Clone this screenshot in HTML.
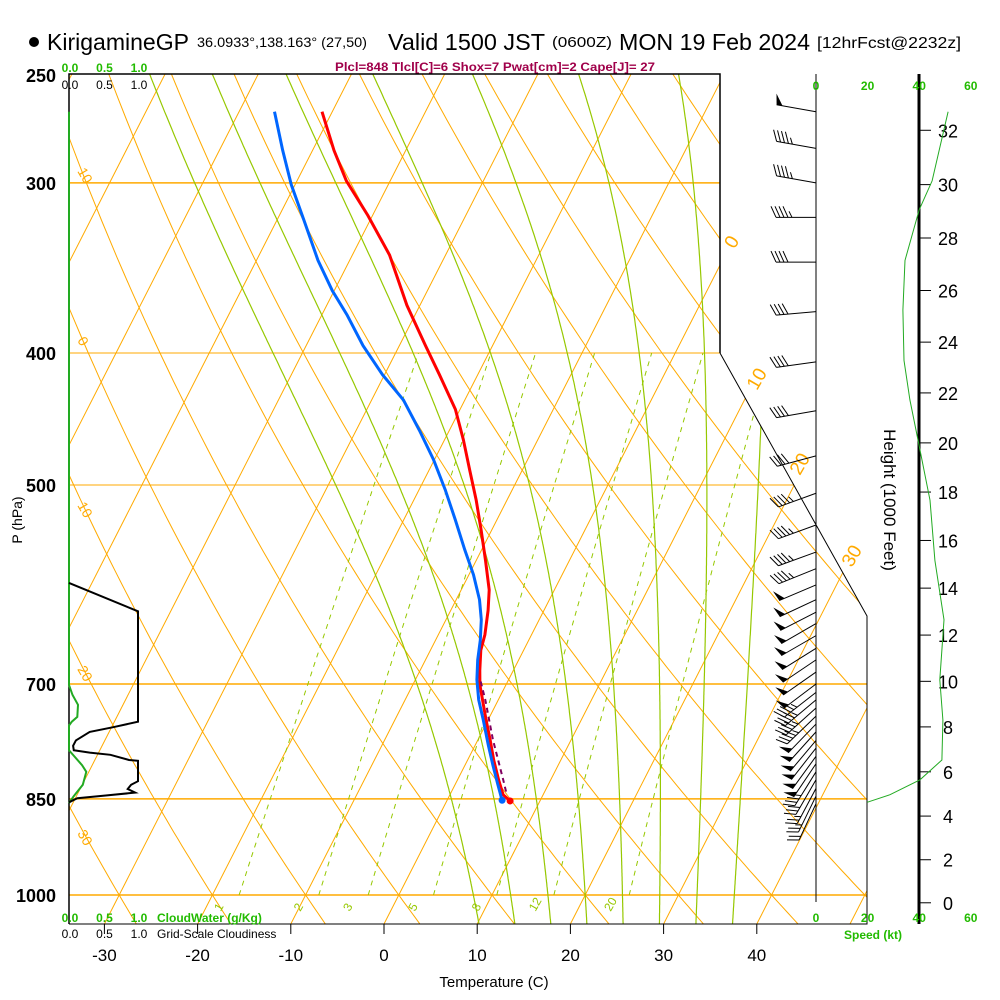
<!DOCTYPE html>
<html><head><meta charset="utf-8"><style>
html,body{margin:0;padding:0;background:#fff;}
svg{display:block;font-family:"Liberation Sans",sans-serif;}
</style></head><body>
<svg id="chart" width="1000" height="1000" viewBox="0 0 1000 1000" xmlns="http://www.w3.org/2000/svg">
<defs><clipPath id="plotClip"><polygon points="69,74 720,74 720,353 867,616 867,924 69,924"/></clipPath></defs>
<rect x="0" y="0" width="1000" height="1000" fill="#fff"/>
<g id="title">
<circle cx="34" cy="42" r="5" fill="#000"/>
<text x="47" y="50" font-size="23" textLength="142" lengthAdjust="spacingAndGlyphs">KirigamineGP</text>
<text x="197" y="47" font-size="14" textLength="170" lengthAdjust="spacingAndGlyphs">36.0933°,138.163° (27,50)</text>
<text x="388" y="50" font-size="23" textLength="157" lengthAdjust="spacingAndGlyphs">Valid 1500 JST</text>
<text x="552" y="47" font-size="15" textLength="60" lengthAdjust="spacingAndGlyphs">(0600Z)</text>
<text x="619" y="50" font-size="23" textLength="191" lengthAdjust="spacingAndGlyphs">MON 19 Feb 2024</text>
<text x="817" y="48" font-size="16" textLength="144" lengthAdjust="spacingAndGlyphs">[12hrFcst@2232z]</text>
</g>
<text x="335" y="71" font-size="12" font-weight="bold" fill="#a0004a" textLength="320" lengthAdjust="spacingAndGlyphs">Plcl=848 Tlcl[C]=6 Shox=7 Pwat[cm]=2 Cape[J]= 27</text>
<g id="grid" clip-path="url(#plotClip)"></g>
<g id="frame">
<polyline points="69,924 69,74 720,74 720,353" fill="none" stroke="#000" stroke-width="1.5"/>
<polyline points="720,353 867,616 867,924 69,924" fill="none" stroke="#000" stroke-width="1"/>
</g>
<g id="labels"></g>
<g id="cloud"></g>
<g id="profiles"></g>
<g id="barbs"></g>
<g id="rightaxis"></g>
</svg>
<script>
// ===== DATA =====
const isobarLevels = [300, 400, 500, 700, 850, 1000];
const pressureTickLabels = ["250","300","400","500","700","850","1000"];
const pressureTickValues = [250,300,400,500,700,850,1000];
const tempTicks = [-30,-20,-10,0,10,20,30,40];
const thetaLabels = [10,0,-10,-20,-30];
const isothermLabels = [0,10,20,30];
const mixRatios = [1,2,3,5,8,12,20];
const moistThetaW = [8,12,16,20,24,28,32,36];

const tempP  = [266,284,299,317,339,369,395,415,440,463,488,513,540,568,597,618,644,661,684,701,744,769,796,823,844,853];
const tempC  = [-51.1,-47.7,-44.7,-40.5,-36.0,-31.4,-27.2,-24.1,-20.5,-18.0,-15.6,-13.3,-11.1,-9.0,-7.0,-6.0,-5.0,-4.6,-3.6,-2.8,-0.2,1.3,2.8,4.4,5.7,6.8];
const dewP   = [266,284,301,319,342,360,375,395,415,433,456,479,504,530,558,582,607,628,650,672,695,719,744,776,803,830,852];
const dewC   = [-56.2,-53.2,-50.4,-47.2,-43.4,-40.2,-37.3,-33.9,-30.2,-26.6,-23.2,-20.1,-17.2,-14.5,-11.8,-9.5,-7.5,-6.2,-5.2,-4.4,-3.4,-2.1,-0.5,1.4,3.0,4.6,5.9];
const parcelP = [697,719,769,823,844];
const parcelC = [-2.9,-1.4,1.6,4.9,6.1];

const cloudP   = [590,619,746,753,759,770,777,783,786,789,796,797,825,830,836,841,845,849,855];
const cloudVal = [0,1,1,0.64,0.3,0.1,0.06,0.07,0.3,0.6,0.87,1,1,0.9,0.85,0.96,0.55,0.12,0];
const cwP   = [266,701,713,725,740,746,751,783,803,812,830,846,856];
const cwVal = [0,0,0.05,0.13,0.12,0.04,0,0,0.19,0.25,0.2,0.07,0];

const speedP  = [266,299,314,342,372,405,433,463,513,568,628,695,744,796,823,844,855];
const speedKt = [51.2,45,40,34.5,33.7,34.1,36.4,39.5,44.2,46.1,49.6,48,49.2,48.8,40.3,28.7,19.8];

const barbP   = [266,283,300,318,343,373,406,441,476,507,535,560,576,592,607,620,632,645,659,672,686,700,710,719,729,739,749,759,770,780,791,801,812,823,835,846,857];
const barbDir = [280,280,280,270,270,265,262,260,255,250,250,250,248,247,245,243,240,240,238,236,235,233,232,230,228,226,224,222,220,218,216,214,212,210,208,206,205];
const barbKt  = [50,45,45,45,40,40,40,40,40,45,45,45,45,50,50,50,50,50,50,50,50,50,45,45,45,45,50,50,50,50,50,50,35,30,25,25,20];

const heightTicks = [0,2,4,6,8,10,12,14,16,18,20,22,24,26,28,30,32];
const speedTicks = [0,20,40,60];

// ===== AXES =====
const NS="http://www.w3.org/2000/svg";
function yP(p){return 895-591.5*Math.log(1000/p);}
function xT(T,p){return 384+9.32*T+0.51*(924-yP(p));}
function xCloud(v){return 69+69*v;}
function xSpeed(s){return 816+2.58*s;}
function el(tag,attrs,parent){const e=document.createElementNS(NS,tag);for(const k in attrs)e.setAttribute(k,attrs[k]);parent.appendChild(e);return e;}
function pts(a){return a.map(q=>q[0].toFixed(1)+","+q[1].toFixed(1)).join(" ");}
const ORANGE="#ffaa00", GREEN="#96c800";
const grid=document.getElementById('grid');

isobarLevels.forEach(p=>{
  const y=yP(p);
  const l=el('line',{x1:69,x2:870,y1:y,y2:y,stroke:ORANGE,'stroke-width':(p==400||p==500)?1:1.5},grid);
  
  
});
for(let T=-140;T<=60;T+=10){
  const l=el('line',{x1:xT(T,1050),y1:yP(1050),x2:xT(T,240),y2:yP(240),stroke:ORANGE,'stroke-width':1},grid);
  
  
}
for(let th=-60;th<=220;th+=10){
  const a=[];
  for(let p=1060;p>=240;p-=10){const T=(th+273.15)*Math.pow(p/1000,0.286)-273.15;a.push([xT(T,p),yP(p)]);}
  const l=el('polyline',{points:pts(a),fill:'none',stroke:ORANGE,'stroke-width':1},grid);
  
  
}
function dTdp(T,p){const Tc=T-273.15;const es=6.112*Math.exp(17.67*Tc/(Tc+243.5));const rs=0.622*es/(p-es);
  return (287*T+2.5e6*rs)/(p*(1004+2.5e6*2.5e6*rs*0.622/(287*T*T)));}
moistThetaW.forEach(tw=>{
  const up=[];let T=tw+273.15;
  for(let p=1000;p>=240;p-=2){up.push([xT(T-273.15,p),yP(p)]);T-=dTdp(T,p)*2;}
  const dn=[];T=tw+273.15;
  for(let p=1000;p<=1060;p+=2){dn.push([xT(T-273.15,p),yP(p)]);T+=dTdp(T,p)*2;}
  const a=dn.reverse().concat(up);
  const l=el('polyline',{points:pts(a),fill:'none',stroke:GREEN,'stroke-width':1.2},grid);
  
  
});
mixRatios.forEach(w=>{
  const a=[];
  for(let p=1000;p>=400;p-=10){const e=w*p/(622+w);const L=Math.log(e/6.112);const Td=243.5*L/(17.67-L);a.push([xT(Td,p),yP(p)]);}
  const l=el('polyline',{points:pts(a),fill:'none',stroke:GREEN,'stroke-width':1,'stroke-dasharray':'5,5'},grid);
  
  
  const lp=1000, e=w*lp/(622+w), L=Math.log(e/6.112), Td=243.5*L/(17.67-L);
  const t=el('text',{x:xT(Td,lp)-22,y:914,'font-size':12,fill:GREEN,transform:`rotate(-60 ${xT(Td,lp)-22} 910)`},document.getElementById('labels'));
  t.textContent=w;
  
  
});

const labels=document.getElementById('labels');
pressureTickValues.forEach((p,i)=>{
  const t=el('text',{x:56,y:yP(p)+7,'font-size':18,'font-weight':'bold','text-anchor':'end'},labels);
  t.textContent=pressureTickLabels[i];
  
  
});
{const t=el('text',{x:22,y:520,'font-size':14,'text-anchor':'middle',transform:'rotate(-90 22 520)'},labels);t.textContent='P (hPa)';
}
tempTicks.forEach(T=>{
  const x=384+9.32*T;
  el('line',{x1:x,x2:x,y1:924,y2:934,stroke:'#000','stroke-width':1},labels);
  const t=el('text',{x:x,y:961,'font-size':17,'text-anchor':'middle'},labels);
  t.textContent=T;
  
  
});
{const t=el('text',{x:494,y:987,'font-size':15,'text-anchor':'middle'},labels);t.textContent='Temperature (C)';
}
thetaLabels.forEach(th=>{
  let best=null;
  for(let p=250;p<=1050;p+=1){const T=(th+273.15)*Math.pow(p/1000,0.286)-273.15;if(xT(T,p)>=76&&best===null)best=p;}
  if(best===null)return;const y=yP(best)+18;
  const t=el('text',{x:75,y:y,'font-size':14,fill:ORANGE,transform:`rotate(60 79 ${y})`},labels);
  t.textContent=Math.abs(th)+'';
  
  
});
const isoLabelPos=[[732,248],[757,385],[800,470],[852,562]];
isothermLabels.forEach((T,i)=>{
  const [x,y]=isoLabelPos[i];
  const t=el('text',{x:x,y:y,'font-size':19,fill:ORANGE,'text-anchor':'middle',transform:`rotate(-60 ${x} ${y-6})`},labels);
  t.textContent=T;
  
  
});
[[0,'0.0'],[0.5,'0.5'],[1,'1.0']].forEach(([v,s])=>{
  let t=el('text',{x:xCloud(v)+1,y:72,'font-size':12,'font-weight':'bold',fill:'#22bb00','text-anchor':'middle'},labels);t.textContent=s;
  
  t=el('text',{x:xCloud(v)+1,y:89,'font-size':12,fill:'#000','text-anchor':'middle'},labels);t.textContent=s;
  
  t=el('text',{x:xCloud(v)+1,y:922,'font-size':12,'font-weight':'bold',fill:'#22bb00','text-anchor':'middle'},labels);t.textContent=s;
  
  t=el('text',{x:xCloud(v)+1,y:938,'font-size':12,fill:'#000','text-anchor':'middle'},labels);t.textContent=s;
  
});
{let t=el('text',{x:157,y:922,'font-size':12,'font-weight':'bold',fill:'#22bb00'},labels);t.textContent='CloudWater (g/Kg)';

t=el('text',{x:157,y:938,'font-size':12,fill:'#000'},labels);t.textContent='Grid-Scale Cloudiness';
}

const cloud=document.getElementById('cloud');
{const a=cwP.map((p,i)=>[xCloud(cwVal[i]),yP(p)]);
const l=el('polyline',{points:pts(a),fill:'none',stroke:'#22aa22','stroke-width':2},cloud);

const b=cloudP.map((p,i)=>[xCloud(cloudVal[i]),yP(p)]);
const m=el('polyline',{points:pts(b),fill:'none',stroke:'#000','stroke-width':2},cloud);
}

const prof=document.getElementById('profiles');
{const t=el('polyline',{points:pts(tempP.map((p,i)=>[xT(tempC[i],p),yP(p)])),fill:'none',stroke:'#ff0000','stroke-width':3},prof);

const d=el('polyline',{points:pts(dewP.map((p,i)=>[xT(dewC[i],p),yP(p)])),fill:'none',stroke:'#0066ff','stroke-width':3},prof);

const pc=el('polyline',{points:pts(parcelP.map((p,i)=>[xT(parcelC[i],p),yP(p)])),fill:'none',stroke:'#800060','stroke-width':2,'stroke-dasharray':'5,4'},prof);

const n=tempP.length-1;
const c1=el('circle',{cx:xT(tempC[n],tempP[n]),cy:yP(tempP[n]),r:3.5,fill:'#ff0000'},prof);

const m=dewP.length-1;
const c2=el('circle',{cx:xT(dewC[m],dewP[m]),cy:yP(dewP[m]),r:3.5,fill:'#0066ff'},prof);
}

const ra=document.getElementById('rightaxis');
{let l=el('line',{x1:816,x2:816,y1:74,y2:902,stroke:'#000','stroke-width':1},ra);

l=el('line',{x1:919,x2:919,y1:74,y2:924,stroke:'#000','stroke-width':3},ra);
}
speedTicks.forEach(s=>{
  let t=el('text',{x:xSpeed(s),y:90,'font-size':12,'font-weight':'bold',fill:'#22bb00','text-anchor':'middle'},ra);t.textContent=s;
  
  t=el('text',{x:xSpeed(s),y:922,'font-size':12,'font-weight':'bold',fill:'#22bb00','text-anchor':'middle'},ra);t.textContent=s;
  
});
{let t=el('text',{x:873,y:939,'font-size':12,'font-weight':'bold',fill:'#22bb00','text-anchor':'middle'},ra);t.textContent='Speed (kt)';

t=el('text',{x:884,y:500,'font-size':17,'text-anchor':'middle',transform:'rotate(90 884 500)'},ra);t.textContent='Height (1000 Feet)';
}
heightTicks.forEach(h=>{
  const zm=h*1000*0.3048;const p=1013.25*Math.pow(1-2.25577e-5*zm,5.25588);const y=yP(p);
  el('line',{x1:919,x2:931,y1:y,y2:y,stroke:'#000','stroke-width':1},ra);
  const t=el('text',{x:948,y:y+7,'font-size':18,'text-anchor':'middle'},ra);t.textContent=h;
  
});
{const s=el('polyline',{points:pts(speedP.map((p,i)=>[xSpeed(speedKt[i]),yP(p)])),fill:'none',stroke:'#22aa22','stroke-width':1},ra);
}

const bg=document.getElementById('barbs');
barbP.forEach((p,i)=>{
  const g=el('g',{},bg);
  
  
  const d=barbDir[i]*Math.PI/180, ux=Math.sin(d), uy=-Math.cos(d);
  const px=-uy, py=ux;
  const bx=816, by=yP(p), L=40, tx=bx+ux*L, ty=by+uy*L;
  el('line',{x1:bx,y1:by,x2:tx,y2:ty,stroke:'#000','stroke-width':1},g);
  let s=Math.round(barbKt[i]/5)*5, pos=0;
  const P=(k)=>[tx-ux*k,ty-uy*k];
  while(s>=50){const a=P(pos),c=P(pos+6);
    el('polygon',{points:pts([a,[a[0]+px*11+ux*2,a[1]+py*11+uy*2],c]),fill:'#000'},g);pos+=8;s-=50;}
  while(s>=10){const a=P(pos);el('line',{x1:a[0],y1:a[1],x2:a[0]+px*11+ux*5,y2:a[1]+py*11+uy*5,stroke:'#000','stroke-width':1},g);pos+=4;s-=10;}
  if(s>=5){const a=P(pos);el('line',{x1:a[0],y1:a[1],x2:a[0]+px*6+ux*3,y2:a[1]+py*6+uy*3,stroke:'#000','stroke-width':1},g);}
});
</script>
</body></html>
